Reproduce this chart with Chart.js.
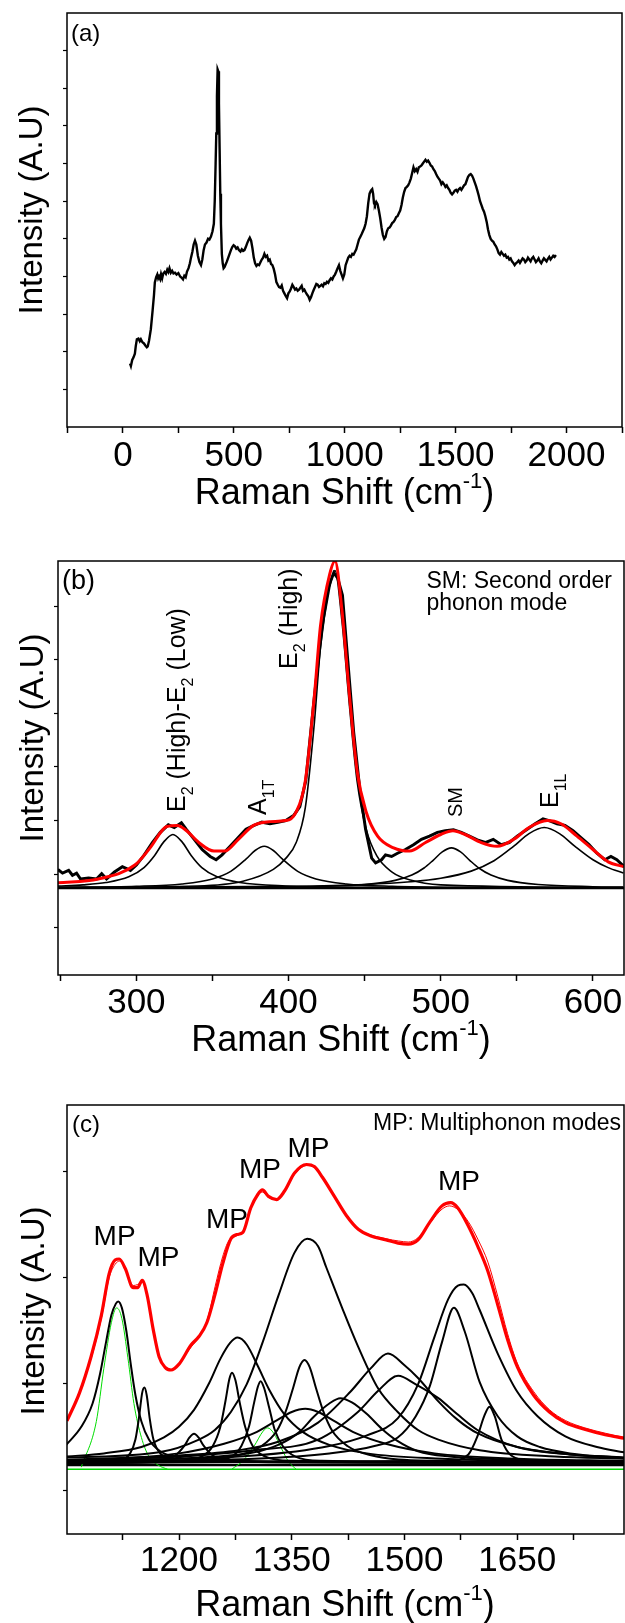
<!DOCTYPE html>
<html>
<head>
<meta charset="utf-8">
<script src="https://cdn.jsdelivr.net/npm/chart.js@4.4.1/dist/chart.umd.min.js"></script>
<style>
  html, body { margin: 0; padding: 0; background: #fff; }
  #page { position: relative; width: 625px; height: 1623px; }
  canvas { position: absolute; left: 0; }
</style>
</head>
<body>
<div id="page">
  <canvas id="chart-a" width="625" height="540" style="top:0"></canvas>
  <canvas id="chart-b" width="625" height="540" style="top:540px"></canvas>
  <canvas id="chart-c" width="625" height="543" style="top:1080px"></canvas>
</div>
<script>
const FONT = '"Liberation Sans", Arial, Helvetica, sans-serif';

// ---- panel (a): full Raman spectrum ----
const ramanShiftA = [32,36,42,48,54,58,63,70,76,81,88,95,102,108,112,118,126,134,140,144,150,155,159,163,168,172,177,182,188,194,200,205,210,216,222,228,235,242,250,258,264,271,277,283,289,296,302,307,313,319,325,331,338,345,352,358,364,370,377,384,390,397,404,410,414,418,421,424,427,430,433,436,439,442,446,450,454,458,463,469,475,481,487,493,499,505,511,517,523,530,536,542,548,554,560,566,572,578,584,590,596,602,608,614,620,626,632,638,644,650,656,662,668,674,680,686,692,698,704,710,716,722,728,734,740,746,752,758,764,770,776,782,788,794,800,806,812,818,824,830,836,842,848,854,860,866,872,878,884,890,896,902,908,914,920,926,932,938,944,950,956,962,968,974,980,986,992,998,1004,1010,1016,1022,1028,1034,1040,1046,1052,1058,1064,1070,1076,1082,1088,1094,1100,1106,1112,1118,1124,1128,1132,1136,1142,1148,1154,1160,1166,1172,1178,1184,1190,1196,1202,1208,1214,1220,1226,1232,1238,1244,1250,1256,1262,1268,1274,1280,1286,1292,1298,1304,1310,1316,1322,1328,1334,1340,1346,1352,1358,1364,1370,1376,1382,1388,1394,1400,1406,1412,1418,1424,1430,1436,1442,1448,1454,1460,1466,1472,1478,1484,1490,1496,1502,1508,1514,1520,1526,1532,1538,1544,1550,1556,1562,1568,1574,1580,1586,1592,1598,1604,1610,1616,1622,1628,1634,1640,1646,1652,1658,1664,1670,1676,1682,1688,1694,1700,1706,1712,1718,1724,1730,1736,1742,1748,1754,1760,1766,1772,1778,1784,1790,1796,1802,1808,1814,1820,1826,1832,1838,1844,1850,1856,1862,1868,1874,1880,1886,1892,1898,1904,1910,1916,1922,1928,1934,1940,1946,1952];
const intensityA = [1.69,1.62,1.78,1.85,1.95,2.15,2.33,2.35,2.28,2.33,2.25,2.22,2.16,2.12,2.14,2.3,2.6,3.1,3.5,3.84,3.98,4.05,3.95,4.0,3.93,4.06,3.95,4.08,4.12,4.07,4.18,4.12,4.22,4.1,4.15,4.08,4.1,4.05,4.09,4.0,3.97,3.92,4.02,3.98,4.13,4.22,4.35,4.5,4.65,4.85,4.95,4.85,4.55,4.38,4.3,4.45,4.7,4.85,4.9,5.0,4.98,5.06,5.2,5.4,6.0,7.0,7.8,8.8,9.5,9.45,8.6,7.4,6.2,5.4,4.6,4.35,4.22,4.25,4.32,4.4,4.5,4.6,4.7,4.78,4.83,4.8,4.74,4.77,4.7,4.66,4.72,4.68,4.7,4.78,4.88,4.96,5.03,4.95,4.75,4.5,4.35,4.28,4.32,4.3,4.38,4.45,4.5,4.6,4.52,4.55,4.42,4.45,4.33,4.3,4.2,4.05,3.85,3.78,3.72,3.7,3.76,3.62,3.55,3.48,3.42,3.55,3.6,3.68,3.78,3.72,3.65,3.68,3.62,3.65,3.7,3.75,3.62,3.65,3.58,3.52,3.47,3.38,3.45,3.55,3.64,3.72,3.8,3.78,3.72,3.75,3.78,3.74,3.82,3.8,3.86,3.83,3.9,3.95,3.92,4.0,4.05,4.13,4.22,4.3,4.15,4.05,3.95,4.05,4.3,4.4,4.5,4.55,4.52,4.6,4.58,4.65,4.72,4.85,4.98,5.05,5.12,5.2,5.28,5.4,5.6,5.95,6.2,6.28,6.32,6.2,5.95,5.9,5.98,5.92,5.75,5.55,5.3,5.1,5.0,5.05,5.2,5.28,5.3,5.35,5.42,5.45,5.5,5.58,5.6,5.68,5.75,5.9,6.1,6.25,6.35,6.38,6.42,6.5,6.6,6.75,6.9,6.8,6.85,6.78,6.9,6.92,6.95,7.0,7.05,7.1,7.05,7.08,7.02,6.95,6.92,6.85,6.8,6.72,6.65,6.6,6.55,6.45,6.5,6.45,6.38,6.42,6.35,6.3,6.22,6.18,6.22,6.28,6.3,6.25,6.32,6.35,6.3,6.36,6.42,6.45,6.55,6.65,6.7,6.72,6.68,6.6,6.5,6.4,6.28,6.15,6.0,5.9,5.8,5.72,5.6,5.45,5.25,5.1,5.0,4.95,4.92,4.85,4.8,4.72,4.62,4.58,4.65,4.6,4.55,4.58,4.5,4.52,4.45,4.48,4.4,4.36,4.3,4.35,4.38,4.42,4.36,4.42,4.48,4.45,4.38,4.42,4.5,4.45,4.4,4.48,4.52,4.45,4.38,4.42,4.48,4.4,4.35,4.42,4.48,4.44,4.4,4.47,4.52,4.45,4.5,4.55,4.52,4.57];
const xTicksA = [-250,0,250,500,750,1000,1250,1500,1750,2000,2250];
const xLabelsA = [0,500,1000,1500,2000];
const yTicksA = [1,2,3,4,5,6,7,8,9,10];

// ---- panel (b): 250-620 cm-1 fit ----
const measuredB = [[248.4,0.35],[251.5,0.28],[255.5,0.33],[258,0.24],[260.7,0.28],[263.3,0.17],[268.6,0.19],[273.8,0.17],[277.2,0.27],[280.4,0.17],[285.6,0.3],[290.8,0.4],[296.1,0.33],[300,0.43],[305.2,0.62],[310.5,0.85],[315.7,1.04],[321,1.18],[324.9,1.13],[329.6,1.22],[332.7,1.1],[338,0.91],[343.2,0.72],[348.5,0.59],[352.4,0.53],[356.3,0.62],[361.6,0.78],[366.8,0.94],[372,1.1],[377.3,1.17],[382.5,1.23],[387.8,1.2],[393,1.23],[398.2,1.26],[403.5,1.36],[407.4,1.52],[411.3,2.0],[416.6,3.47],[421.8,4.82],[425.8,5.59],[429.7,5.88],[432.3,5.78],[435.4,5.46],[438.9,4.24],[442.8,2.9],[446.7,1.87],[450.6,1.1],[454.6,0.56],[457.2,0.47],[461.1,0.53],[463.7,0.62],[467.7,0.59],[471.6,0.65],[476.8,0.72],[482.1,0.81],[487.3,0.91],[492.6,0.97],[497.8,1.04],[503,1.07],[508.3,1.09],[513.5,1.04],[518.8,0.97],[524,0.9],[529.2,0.85],[534.5,0.91],[539.7,0.81],[545,0.85],[550.2,0.97],[555.4,1.07],[562,1.2],[567.2,1.29],[571.2,1.26],[576.4,1.2],[581.6,1.17],[586.9,1.07],[592.1,0.94],[597.4,0.81],[602.6,0.65],[607.8,0.53],[611.8,0.59],[615.7,0.53],[620.4,0.4]];
const fitSumB = [[248.4,0.1],[275,0.17],[299,0.43],[309,0.75],[320,1.15],[327,1.17],[333,1.07],[341,0.85],[351,0.69],[358,0.69],[367,0.91],[377,1.17],[388,1.24],[398,1.26],[405,1.42],[411,2.0],[417,3.6],[421,4.9],[427,5.85],[430.5,6.1],[435,5.2],[440,3.6],[445,2.19],[451,1.42],[458.5,0.97],[469,0.75],[479.5,0.69],[490,0.85],[500,1.0],[508,1.07],[516,1.0],[526.6,0.85],[537,0.78],[548,0.91],[558,1.13],[570,1.26],[579,1.2],[589.5,0.97],[600,0.72],[610,0.49],[620.4,0.4]];
const peakB_E2diff = [[248,0.039],[265,0.061],[280,0.104],[295,0.211],[305,0.384],[312,0.61],[318,0.862],[324,1.0],[330,0.862],[336,0.61],[343,0.384],[353,0.211],[368,0.104],[398,0.04],[450,0.014],[520,0.006],[620,0.003]];
const peakB_A1T = [[248,0.013],[300,0.034],[330,0.078],[350,0.171],[362,0.313],[372,0.54],[378,0.702],[384,0.78],[390,0.702],[396,0.54],[406,0.313],[418,0.171],[438,0.078],[468,0.034],[520,0.013],[620,0.0045]];
const peakB_E2high = [[248,0.01],[340,0.04],[370,0.13],[390,0.35],[398,0.55],[405,0.85],[411,1.5],[417,3.1],[421,4.5],[427,5.6],[430.5,5.92],[435,5.0],[440,3.4],[445,2.0],[451,1.1],[458,0.6],[468,0.3],[480,0.15],[500,0.06],[620,0.01]];
const peakB_SM = [[248,0.004],[400,0.021],[450,0.068],[470,0.144],[481,0.243],[489,0.375],[495,0.519],[501,0.675],[507,0.75],[513,0.675],[519,0.519],[525,0.375],[533,0.243],[544,0.144],[564,0.068],[600,0.027],[620,0.019]];
const peakB_E1L = [[248,0.01],[400,0.035],[450,0.068],[480,0.118],[500,0.184],[520,0.317],[535,0.511],[548,0.783],[558,1.017],[568,1.13],[578,1.017],[588,0.783],[600,0.529],[610,0.382],[620,0.282]];
const baseB = [[248,0],[621,0]];
const xTicksB = [250,300,350,400,450,500,550,600];
const xLabelsB = [300,400,500,600];
const yTicksB = [-0.74,0.26,1.26,2.26,3.26,4.26,5.26];

// ---- panel (c): 1050-1790 cm-1 multiphonon fit ----
const fitSumC = [[1051,0.456],[1067.5,0.717],[1083,1.06],[1096.7,1.45],[1107,1.84],[1115,1.97],[1120.5,1.98],[1128.5,1.89],[1139,1.71],[1145,1.71],[1151,1.78],[1157.6,1.64],[1165.6,1.32],[1173.5,1.06],[1181.5,0.96],[1189.4,0.935],[1200,0.99],[1216,1.17],[1226.5,1.25],[1237,1.38],[1247.7,1.64],[1258.3,1.94],[1269,2.17],[1277,2.21],[1285,2.23],[1295.4,2.46],[1305,2.59],[1311,2.63],[1319,2.57],[1330,2.54],[1340.4,2.62],[1353.7,2.79],[1369.6,2.87],[1380,2.85],[1390.8,2.75],[1406.7,2.57],[1422.6,2.39],[1438.5,2.26],[1454.4,2.2],[1475.6,2.16],[1491.5,2.13],[1504.7,2.12],[1518,2.16],[1533.9,2.33],[1549.8,2.48],[1561.4,2.51],[1571,2.46],[1584.2,2.3],[1597.5,2.1],[1610.7,1.87],[1624,1.55],[1637.2,1.22],[1650.4,0.96],[1671.6,0.7],[1692.8,0.54],[1714,0.44],[1740.5,0.375],[1767,0.326],[1792.5,0.293]];
const measuredC = [[1051,0.46],[1067,0.72],[1083,1.04],[1097,1.43],[1107,1.8],[1115,1.93],[1121,1.96],[1129,1.88],[1139,1.73],[1145,1.74],[1151,1.76],[1158,1.62],[1166,1.3],[1174,1.05],[1182,0.96],[1190,0.94],[1200,1.0],[1216,1.15],[1227,1.25],[1238,1.42],[1248,1.72],[1258,2.0],[1266,2.15],[1277,2.2],[1285,2.24],[1295,2.44],[1305,2.58],[1311,2.61],[1319,2.56],[1330,2.54],[1340,2.61],[1354,2.78],[1370,2.86],[1380,2.84],[1391,2.74],[1407,2.56],[1423,2.38],[1438,2.26],[1454,2.21],[1476,2.17],[1492,2.15],[1505,2.14],[1518,2.18],[1534,2.32],[1550,2.45],[1560,2.48],[1572,2.44],[1585,2.33],[1598,2.16],[1611,1.95],[1624,1.63],[1637,1.28],[1650,1.0],[1672,0.73],[1693,0.56],[1714,0.46],[1740,0.39],[1767,0.34],[1792,0.3]];
const peaksC = [
  [[1050,0.23],[1070,0.4],[1085,0.62],[1095,0.9],[1103,1.2],[1110,1.45],[1116,1.56],[1119,1.58],[1124,1.52],[1130,1.3],[1136,0.98],[1142,0.7],[1150,0.45],[1160,0.28],[1175,0.17],[1200,0.11],[1250,0.08],[1350,0.065],[1792,0.06]],
  [[1050,0.06],[1120,0.08],[1135,0.15],[1142,0.28],[1147,0.5],[1151,0.72],[1154,0.77],[1157,0.7],[1161,0.48],[1166,0.28],[1175,0.15],[1200,0.08],[1792,0.06]],
  [[1050,0.06],[1170,0.07],[1195,0.13],[1207,0.22],[1214,0.3],[1220,0.335],[1226,0.3],[1233,0.22],[1245,0.13],[1270,0.08],[1792,0.06]],
  [[1050,0.12],[1100,0.15],[1150,0.21],[1180,0.3],[1200,0.4],[1220,0.56],[1240,0.81],[1255,1.04],[1268,1.19],[1278,1.24],[1290,1.175],[1305,0.97],[1320,0.75],[1340,0.52],[1365,0.35],[1400,0.23],[1450,0.15],[1550,0.1],[1650,0.081],[1792,0.071]],
  [[1050,0.06],[1200,0.08],[1230,0.12],[1245,0.22],[1255,0.4],[1262,0.65],[1267,0.85],[1270.5,0.91],[1275,0.84],[1281,0.62],[1288,0.4],[1298,0.22],[1315,0.12],[1350,0.08],[1792,0.06]],
  [[1050,0.06],[1240,0.08],[1270,0.12],[1283,0.22],[1293,0.4],[1300,0.63],[1305,0.78],[1308.6,0.83],[1313,0.77],[1320,0.58],[1327,0.38],[1338,0.22],[1355,0.12],[1390,0.08],[1792,0.06]],
  [[1050,0.07],[1200,0.08],[1280,0.134],[1310,0.22],[1330,0.36],[1342,0.545],[1352,0.77],[1360,0.96],[1367,1.03],[1374,0.96],[1382,0.77],[1392,0.545],[1404,0.36],[1424,0.22],[1454,0.134],[1534,0.08],[1792,0.065]],
  [[1050,0.11],[1173.5,0.16],[1226.5,0.28],[1247.7,0.37],[1269,0.54],[1290,0.8],[1311,1.19],[1332.5,1.64],[1353.7,2.04],[1370.6,2.17],[1385,2.1],[1396,1.9],[1417,1.52],[1438,1.16],[1465,0.76],[1491,0.54],[1518,0.37],[1545,0.28],[1600,0.18],[1700,0.12],[1792,0.1]],
  [[1050,0.09],[1200,0.13],[1280,0.18],[1332,0.26],[1385,0.44],[1428,0.73],[1455,0.95],[1478,1.09],[1500,0.98],[1518,0.86],[1545,0.64],[1570,0.47],[1597,0.34],[1650,0.21],[1720,0.14],[1792,0.11]],
  [[1050,0.08],[1200,0.12],[1300,0.18],[1385,0.28],[1438,0.54],[1465,0.74],[1491.5,0.88],[1515,0.8],[1545,0.67],[1570,0.52],[1597,0.37],[1650,0.21],[1720,0.14],[1792,0.11]],
  [[1050,0.07],[1250,0.12],[1300,0.16],[1332,0.23],[1360,0.35],[1380,0.5],[1400,0.62],[1414.6,0.67],[1430,0.63],[1450,0.52],[1470,0.38],[1490,0.27],[1518,0.17],[1560,0.12],[1650,0.09],[1792,0.07]],
  [[1050,0.07],[1300,0.1],[1400,0.15],[1460,0.22],[1491,0.3],[1515,0.5],[1534,0.79],[1550,1.2],[1565.7,1.52],[1580,1.3],[1600,0.82],[1624,0.5],[1650,0.31],[1680,0.21],[1720,0.15],[1792,0.11]],
  [[1050,0.08],[1300,0.13],[1400,0.22],[1450,0.32],[1491,0.48],[1518,0.8],[1540,1.25],[1558,1.6],[1571,1.73],[1578.9,1.74],[1590,1.66],[1600,1.5],[1624,1.09],[1650,0.73],[1677,0.5],[1714,0.31],[1756,0.21],[1792,0.16]],
  [[1050,0.06],[1560,0.08],[1585,0.14],[1597,0.31],[1606,0.5],[1613,0.59],[1620,0.5],[1629,0.28],[1642,0.13],[1670,0.08],[1792,0.06]],
  [[1050,0.08],[1200,0.15],[1260,0.24],[1300,0.34],[1330,0.46],[1350,0.54],[1368,0.57],[1385,0.54],[1405,0.46],[1435,0.34],[1475,0.24],[1540,0.15],[1650,0.1],[1792,0.08]]
];
const gaussC_1119 = [[1070,0.02],[1090,0.45],[1100,0.95],[1110,1.38],[1117,1.52],[1124,1.42],[1132,1.05],[1140,0.62],[1150,0.3],[1160,0.12],[1172,0.04],[1185,0.0]];
const gaussC_1318 = [[1270,0.0],[1285,0.08],[1300,0.22],[1312,0.36],[1318,0.39],[1326,0.34],[1336,0.2],[1346,0.07],[1356,0.0]];
const baseC = [[1050,0.04],[1793,0.04]];
const zeroC = [[1050,0],[1793,0]];
const xTicksC = [1125,1200,1275,1350,1425,1500,1575,1650,1725];
const xLabelsC = [1200,1350,1500,1650];
const yTicksC = [-0.195,0.805,1.805,2.805];

const shiftTitle = [['Raman Shift (cm', ''], ['-1', 'sup'], [')', '']];
const intensityTitle = [['Intensity (A.U)', '']];

// rich text with sub/superscripts, optionally rotated to read bottom-to-top
function drawRich(ctx, parts, x, y, size, opts) {
  ctx.save();
  ctx.translate(x, y);
  if (opts.rotate) ctx.rotate(-Math.PI / 2);
  ctx.fillStyle = '#000';
  ctx.textBaseline = opts.baseline || 'alphabetic';
  const small = Math.round(size * 0.62);
  let total = 0;
  parts.forEach(([t, k]) => {
    ctx.font = `${k ? small : size}px ${FONT}`;
    total += ctx.measureText(t).width;
  });
  let cx = opts.align === 'center' ? -total / 2 : opts.align === 'right' ? -total : 0;
  parts.forEach(([t, k]) => {
    ctx.font = `${k ? small : size}px ${FONT}`;
    const dy = k === 'sub' ? size * 0.3 : k === 'sup' ? -size * 0.45 : 0;
    ctx.fillText(t, cx, dy);
    cx += ctx.measureText(t).width;
  });
  ctx.restore();
}

const framePlugin = {
  id: 'frame',
  afterDatasetsDraw(chart) {
    const { ctx, chartArea: a } = chart;
    ctx.save();
    ctx.strokeStyle = '#000';
    ctx.lineWidth = 1.5;
    ctx.strokeRect(a.left, a.top, a.right - a.left, a.bottom - a.top);
    ctx.restore();
  }
};

function notesPlugin(items) {
  return {
    id: 'notes',
    afterDraw(chart) {
      items.forEach(n => drawRich(chart.ctx, n.parts, n.x, n.y, n.size, n));
    }
  };
}

const pts = arr => arr.map(([x, y]) => ({ x, y }));
function line(data, color, width, smooth) {
  return {
    data, borderColor: color, borderWidth: width, pointRadius: 0, fill: false,
    tension: 0, cubicInterpolationMode: smooth ? 'monotone' : 'default'
  };
}

function buildChart(id, o) {
  return new Chart(document.getElementById(id), {
    type: 'line',
    data: { datasets: o.datasets },
    options: {
      responsive: false,
      animation: false,
      events: [],
      layout: { padding: { top: o.top, right: o.right, bottom: 0, left: 0 } },
      plugins: { legend: { display: false }, tooltip: { enabled: false } },
      scales: {
        x: {
          type: 'linear', min: o.xMin, max: o.xMax,
          afterBuildTicks: s => { s.ticks = o.xTicks.map(v => ({ value: v })); },
          afterFit: s => { s.height = o.xHeight; },
          border: { display: false },
          grid: { drawOnChartArea: false, tickLength: 6, tickColor: '#000', tickWidth: 1.5 },
          ticks: {
            color: '#000', font: { size: 35, family: FONT }, padding: o.tickPad,
            maxRotation: 0, autoSkip: false,
            callback: v => (o.xLabels.includes(v) ? String(v) : '')
          }
        },
        y: {
          type: 'linear', min: o.yMin, max: o.yMax,
          afterBuildTicks: s => { s.ticks = o.yTicks.map(v => ({ value: v })); },
          afterFit: s => { s.width = o.yWidth; },
          border: { display: false },
          grid: { drawOnChartArea: false, tickLength: 4, tickColor: '#000', tickWidth: 1.2 },
          ticks: { padding: 0, callback: () => '' }
        }
      }
    },
    plugins: [framePlugin, notesPlugin(o.notes)]
  });
}

// (a)
buildChart('chart-a', {
  top: 13, right: 3, yWidth: 67, xHeight: 113, tickPad: 2,
  xMin: -252, xMax: 2250, xTicks: xTicksA, xLabels: xLabelsA,
  yMin: 0, yMax: 11, yTicks: yTicksA,
  datasets: [line(ramanShiftA.map((x, i) => ({ x, y: intensityA[i] })), '#000', 2.4, false)],
  notes: [
    { parts: [['(a)', '']], x: 71, y: 34, size: 24, baseline: 'middle' },
    { parts: intensityTitle, x: 42, y: 210, size: 33, rotate: true, align: 'center' },
    { parts: shiftTitle, x: 344.5, y: 504, size: 36, align: 'center' }
  ]
});

// (b)
buildChart('chart-b', {
  top: 21, right: 1, yWidth: 58, xHeight: 105, tickPad: 1,
  xMin: 248.5, xMax: 620.4, xTicks: xTicksB, xLabels: xLabelsB,
  yMin: -1.62, yMax: 6.1, yTicks: yTicksB,
  datasets: [
    line(pts(fitSumB), '#f00', 3, true),
    line(pts(measuredB), '#000', 3, false),
    line(pts(peakB_E2diff), '#000', 1.6, true),
    line(pts(peakB_A1T), '#000', 1.6, true),
    line(pts(peakB_E2high), '#000', 1.6, true),
    line(pts(peakB_SM), '#000', 1.6, true),
    line(pts(peakB_E1L), '#000', 1.6, true),
    line(pts(baseB), '#000', 2.5, false)
  ],
  notes: [
    { parts: [['(b)', '']], x: 62, y: 42, size: 27, baseline: 'middle' },
    { parts: [['SM: Second order', '']], x: 426.5, y: 42, size: 23, baseline: 'middle' },
    { parts: [['phonon mode', '']], x: 426.5, y: 64, size: 23, baseline: 'middle' },
    { parts: [['E', ''], ['2', 'sub'], [' (High)-E', ''], ['2', 'sub'], [' (Low)', '']], x: 185, y: 272, size: 25, rotate: true },
    { parts: [['A', ''], ['1T', 'sub']], x: 266, y: 275, size: 25, rotate: true },
    { parts: [['E', ''], ['2', 'sub'], [' (High)', '']], x: 297, y: 129, size: 25, rotate: true },
    { parts: [['SM', '']], x: 462, y: 277, size: 20, rotate: true },
    { parts: [['E', ''], ['1L', 'sub']], x: 558, y: 268, size: 25, rotate: true },
    { parts: intensityTitle, x: 43, y: 198, size: 33, rotate: true, align: 'center' },
    { parts: shiftTitle, x: 341, y: 511, size: 36, align: 'center' }
  ]
});

// (c)
const datasetsC = [
  line(pts(fitSumC), '#f00', 3.2, true),
  line(pts(measuredC), '#f00', 1, true),
  ...peaksC.map(p => line(pts(p), '#000', 2, true)),
  line(pts(gaussC_1119), '#00dd00', 1, true),
  line(pts(gaussC_1318), '#00dd00', 1, true),
  line(pts(baseC), '#000', 2.5, false),
  line(pts(zeroC), '#00dd00', 1.5, false)
];
buildChart('chart-c', {
  top: 25, right: 1, yWidth: 67, xHeight: 89, tickPad: 0,
  xMin: 1051, xMax: 1792, xTicks: xTicksC, xLabels: xLabelsC,
  yMin: -0.609, yMax: 3.43, yTicks: yTicksC,
  datasets: datasetsC,
  notes: [
    { parts: [['(c)', '']], x: 72, y: 45, size: 24, baseline: 'middle' },
    { parts: [['MP: Multiphonon modes', '']], x: 621, y: 44, size: 23, baseline: 'middle', align: 'right' },
    { parts: [['MP', '']], x: 114.6, y: 157.5, size: 28, baseline: 'middle', align: 'center' },
    { parts: [['MP', '']], x: 158.4, y: 178.3, size: 28, baseline: 'middle', align: 'center' },
    { parts: [['MP', '']], x: 227, y: 140, size: 28, baseline: 'middle', align: 'center' },
    { parts: [['MP', '']], x: 260, y: 90, size: 28, baseline: 'middle', align: 'center' },
    { parts: [['MP', '']], x: 308.5, y: 69, size: 28, baseline: 'middle', align: 'center' },
    { parts: [['MP', '']], x: 459, y: 102, size: 28, baseline: 'middle', align: 'center' },
    { parts: intensityTitle, x: 44, y: 231, size: 33, rotate: true, align: 'center' },
    { parts: shiftTitle, x: 345, y: 536, size: 36, align: 'center' }
  ]
});
</script>
</body>
</html>
